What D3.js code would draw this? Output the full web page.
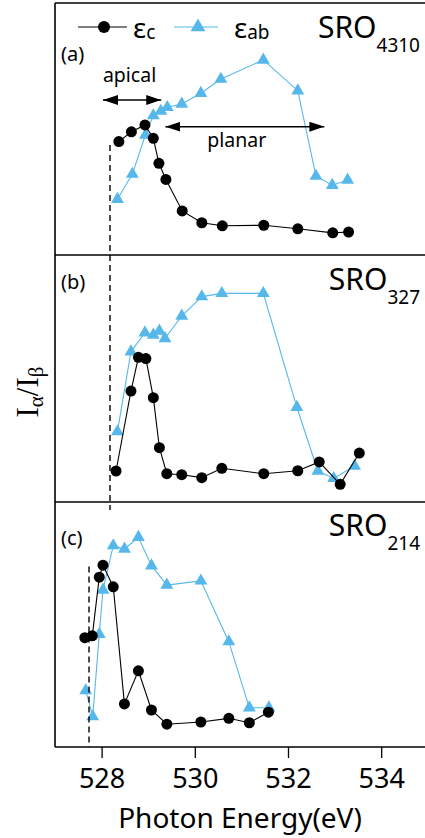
<!DOCTYPE html>
<html lang="en">
<head>
<meta charset="UTF-8"/>
<title>SRO O K-edge</title>
<script src="https://d3js.org/d3.v7.min.js"></script>
<style>
	body { margin: 0; background: white; }
	svg text { font-family: "Noto Sans", sans-serif; fill: black; }
</style>
</head>
<body>
<script>
	// photon energy (eV) and normalised intensity
	var energyA_c = [528.37, 528.64, 528.93, 529.11, 529.23, 529.38, 529.73, 530.15, 530.59, 531.48, 532.21, 532.96, 533.30];
	var ratioA_c  = [0.450, 0.489, 0.516, 0.463, 0.364, 0.300, 0.175, 0.128, 0.116, 0.118, 0.104, 0.088, 0.091];
	var energyA_ab = [528.34, 528.66, 528.94, 529.11, 529.27, 529.41, 529.72, 530.13, 530.56, 531.47, 532.21, 532.60, 532.95, 533.28];
	var ratioA_ab  = [0.221, 0.321, 0.476, 0.553, 0.571, 0.586, 0.599, 0.642, 0.698, 0.774, 0.652, 0.313, 0.277, 0.298];

	var energyB_c = [528.31, 528.63, 528.79, 528.95, 529.11, 529.24, 529.40, 529.72, 530.15, 530.58, 531.48, 532.21, 532.67, 533.12, 533.53];
	var ratioB_c  = [0.126, 0.451, 0.588, 0.583, 0.424, 0.221, 0.115, 0.111, 0.099, 0.137, 0.115, 0.127, 0.163, 0.072, 0.199];
	var energyB_ab = [528.34, 528.63, 528.93, 529.11, 529.24, 529.36, 529.72, 530.15, 530.58, 531.47, 532.19, 532.64, 532.98, 533.43];
	var ratioB_ab  = [0.286, 0.611, 0.688, 0.679, 0.695, 0.665, 0.756, 0.835, 0.848, 0.848, 0.385, 0.126, 0.096, 0.146];

	var energyC_c = [527.64, 527.80, 527.95, 528.03, 528.25, 528.49, 528.79, 529.07, 529.40, 530.13, 530.73, 531.17, 531.58];
	var ratioC_c  = [0.446, 0.454, 0.693, 0.742, 0.654, 0.176, 0.311, 0.151, 0.093, 0.102, 0.117, 0.099, 0.142];
	var energyC_ab = [527.66, 527.81,527.95,528.03,528.25,528.49,528.79,529.07,529.40,530.13, 530.73, 531.17, 531.59];
	var ratioC_ab  = [0.230, 0.124, 0.460, 0.641, 0.822, 0.808, 0.856, 0.740, 0.661, 0.678, 0.430, 0.160, 0.160];

	var xTicks = [528, 530, 532, 534];
	var panelLabels = ["(a)", "(b)", "(c)"];
	var compounds = ["4310", "327", "214"];

	var w = 425;
	var h = 838;
	var black = "#000";
	var blue = "#56b8ea";

	var svg = d3.select("body").append("svg")
		.attr("width", w)
		.attr("height", h);

	var xScale = d3.scaleLinear()
		.domain([527, 534.94])
		.range([55, 425]);

	var panels = [
		{ top: 3, bottom: 255, c: [energyA_c, ratioA_c], ab: [energyA_ab, ratioA_ab], labelY: 61 },
		{ top: 256, bottom: 502, c: [energyB_c, ratioB_c], ab: [energyB_ab, ratioB_ab], labelY: 289 },
		{ top: 502, bottom: 747, c: [energyC_c, ratioC_c], ab: [energyC_ab, ratioC_ab], labelY: 545 }
	];
	panels.forEach(function (p) {
		p.y = d3.scaleLinear().domain([0, 1]).range([p.bottom, p.top]);
	});

	// arrow heads
	var defs = svg.append("defs");
	defs.append("marker")
		.attr("id", "head")
		.attr("markerUnits", "userSpaceOnUse")
		.attr("viewBox", "0 -5 15 10")
		.attr("refX", 15)
		.attr("refY", 0)
		.attr("markerWidth", 15)
		.attr("markerHeight", 10)
		.attr("orient", "auto-start-reverse")
		.append("path")
		.attr("d", "M0,-5L15,0L0,5Z")
		.attr("fill", black);

	// frame lines
	svg.append("line")
		.attr("x1", 55).attr("x2", 55)
		.attr("y1", 3).attr("y2", 747)
		.attr("stroke", black).attr("stroke-width", 1.6);
	[3, 255, 502].forEach(function (yy) {
		svg.append("line")
			.attr("x1", 55).attr("x2", w)
			.attr("y1", yy).attr("y2", yy)
			.attr("stroke", black).attr("stroke-width", 1.6);
	});

	// x axis
	var xAxis = d3.axisBottom(xScale)
		.tickValues(xTicks)
		.tickSize(11)
		.tickPadding(11)
		.tickFormat(d3.format("d"));
	var gx = svg.append("g")
		.attr("transform", "translate(0,747)")
		.call(xAxis);
	gx.select(".domain")
		.attr("d", "M55,0H" + w)
		.attr("stroke-width", 1.6);
	gx.selectAll(".tick line").attr("stroke-width", 1.3);
	gx.selectAll(".tick text")
		.attr("font-size", 27)
		.attr("font-family", "Noto Sans, sans-serif");

	svg.append("text")
		.attr("x", 240)
		.attr("y", 828)
		.attr("text-anchor", "middle")
		.attr("font-size", 28)
		.text("Photon Energy(eV)");

	// y label
	var yl = svg.append("text")
		.attr("transform", "translate(38,392) rotate(-90)")
		.attr("text-anchor", "middle")
		.style("font-family", "Liberation Serif, serif")
		.attr("font-size", 31);
	yl.append("tspan").text("I");
	yl.append("tspan").attr("font-size", 21).attr("dy", 5).text("α");
	yl.append("tspan").attr("dy", -5).text("/I");
	yl.append("tspan").attr("font-size", 21).attr("dy", 5).text("β");

	var triangle = d3.symbol().type(d3.symbolTriangle).size(72);

	panels.forEach(function (p, i) {
		var g = svg.append("g");
		var line = d3.line()
			.x(function (d) { return xScale(d[0]); })
			.y(function (d) { return p.y(d[1]); });

		var ab = d3.zip(p.ab[0], p.ab[1]);
		var c = d3.zip(p.c[0], p.c[1]);

		g.append("path")
			.datum(ab)
			.attr("d", line)
			.attr("fill", "none")
			.attr("stroke", blue)
			.attr("stroke-width", 1.1);
		g.selectAll(".tri")
			.data(ab)
			.enter()
			.append("path")
			.attr("class", "tri")
			.attr("d", triangle)
			.attr("transform", function (d) {
				return "translate(" + xScale(d[0]) + "," + p.y(d[1]) + ")";
			})
			.attr("fill", blue);

		g.append("path")
			.datum(c)
			.attr("d", line)
			.attr("fill", "none")
			.attr("stroke", black)
			.attr("stroke-width", 1.1);
		g.selectAll("circle")
			.data(c)
			.enter()
			.append("circle")
			.attr("cx", function (d) { return xScale(d[0]); })
			.attr("cy", function (d) { return p.y(d[1]); })
			.attr("r", 5.5)
			.attr("fill", black);

		svg.append("text")
			.attr("x", 61)
			.attr("y", p.labelY)
			.attr("font-size", 20)
			.text(panelLabels[i]);

		var t = svg.append("text")
			.attr("x", 420)
			.attr("y", p.top + (i == 0 ? 35 : 34))
			.attr("text-anchor", "end")
			.attr("font-size", 30);
		t.append("tspan").text("SRO");
		t.append("tspan").attr("font-size", 19).attr("dy", 14).text(compounds[i]);
	});

	// dashed guides
	var pa = panels[0], pc = panels[2];
	svg.append("line")
		.attr("x1", xScale(528.18)).attr("x2", xScale(528.18))
		.attr("y1", pa.y(0.437)).attr("y2", pc.y(0.967))
		.attr("stroke", black).attr("stroke-width", 1.4)
		.attr("stroke-dasharray", "6,4");
	svg.append("line")
		.attr("x1", xScale(527.73)).attr("x2", xScale(527.73))
		.attr("y1", pc.y(0.737)).attr("y2", pc.y(0))
		.attr("stroke", black).attr("stroke-width", 1.4)
		.attr("stroke-dasharray", "6,4");

	// apical / planar arrows
	svg.append("line")
		.attr("x1", xScale(528.03)).attr("x2", xScale(529.28))
		.attr("y1", pa.y(0.615)).attr("y2", pa.y(0.615))
		.attr("stroke", black).attr("stroke-width", 1.4)
		.attr("marker-start", "url(#head)").attr("marker-end", "url(#head)");
	svg.append("text")
		.attr("x", xScale(528.6)).attr("y", 82)
		.attr("text-anchor", "middle").attr("font-size", 19.5)
		.text("apical");
	svg.append("line")
		.attr("x1", xScale(529.37)).attr("x2", xScale(532.78))
		.attr("y1", pa.y(0.509)).attr("y2", pa.y(0.509))
		.attr("stroke", black).attr("stroke-width", 1.4)
		.attr("marker-start", "url(#head)").attr("marker-end", "url(#head)");
	svg.append("text")
		.attr("x", xScale(530.9)).attr("y", 147)
		.attr("text-anchor", "middle").attr("font-size", 19.5)
		.text("planar");

	// legend
	svg.append("line")
		.attr("x1", 78).attr("x2", 127).attr("y1", 27).attr("y2", 27)
		.attr("stroke", black).attr("stroke-width", 1.1);
	svg.append("circle")
		.attr("cx", 104).attr("cy", 27).attr("r", 6).attr("fill", black);
	var l1 = svg.append("text").attr("x", 133).attr("y", 38).attr("font-size", 28);
	l1.append("tspan").text("ε");
	l1.append("tspan").attr("font-size", 19).attr("dy", 1).text("c");

	svg.append("line")
		.attr("x1", 174).attr("x2", 218).attr("y1", 27).attr("y2", 27)
		.attr("stroke", blue).attr("stroke-width", 1.1);
	svg.append("path")
		.attr("d", d3.symbol().type(d3.symbolTriangle).size(95))
		.attr("transform", "translate(198,27)")
		.attr("fill", blue);
	var l2 = svg.append("text").attr("x", 234).attr("y", 38).attr("font-size", 28);
	l2.append("tspan").text("ε");
	l2.append("tspan").attr("font-size", 19).attr("dy", 1).text("ab");
</script>
</body>
</html>
